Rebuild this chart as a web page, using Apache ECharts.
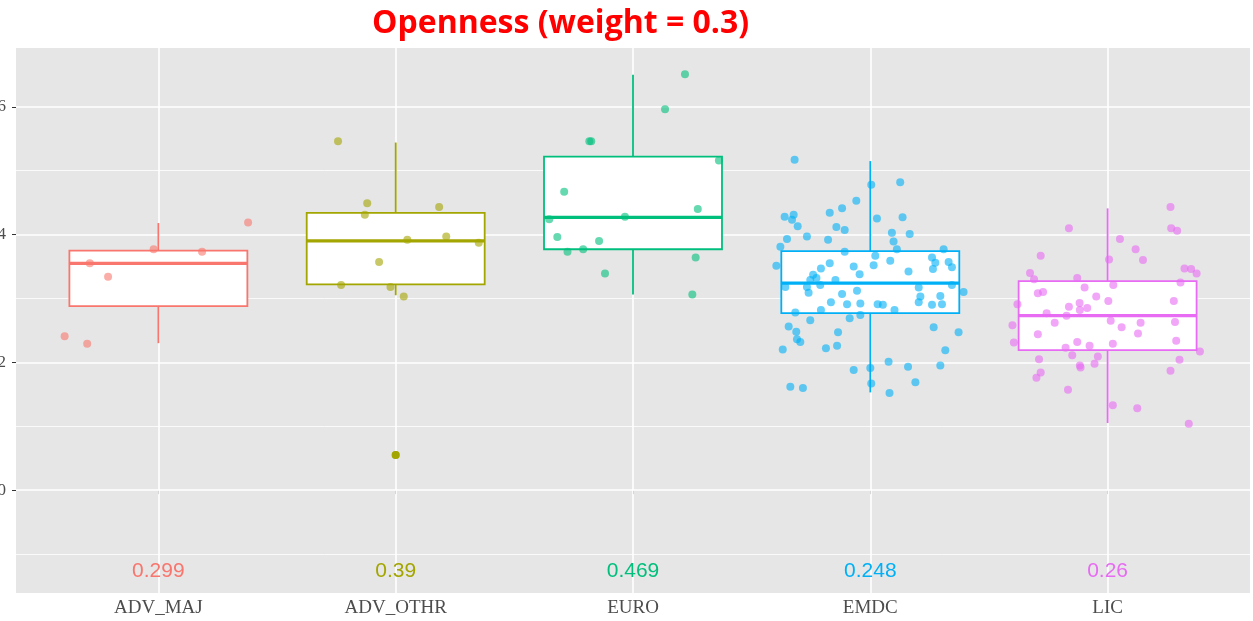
<!DOCTYPE html>
<html>
<head>
<meta charset="utf-8">
<script src="https://cdn.jsdelivr.net/npm/echarts@6/dist/echarts.min.js"></script>
<style>
  html, body { margin: 0; padding: 0; background: #fff; }
  #chart { width: 1253px; height: 621px; }
</style>
</head>
<body>
<div id="chart"></div>
<script>
// categories and colours (ggplot default hue palette)
var categories = ["ADV_MAJ", "ADV_OTHR", "EURO", "EMDC", "LIC"];
var colors = ["#F8766D", "#A3A500", "#00BF7D", "#00B0F6", "#E76BF3"];
var weights = ["0.299", "0.39", "0.469", "0.248", "0.26"];

// box stats: [lower whisker, Q1, median, Q3, upper whisker]
var boxStats = [
  [0.230, 0.288, 0.355, 0.375, 0.418],
  [0.305, 0.322, 0.390, 0.434, 0.544],
  [0.306, 0.377, 0.427, 0.522, 0.650],
  [0.153, 0.277, 0.324, 0.374, 0.515],
  [0.105, 0.219, 0.273, 0.327, 0.441]
];

// outliers: [category index, value]
var outliers = [[1, 0.055]];

// jittered points: [jitter offset, value]
var ptsAdvMaj = [
  [-0.395, 0.241], [-0.30, 0.229], [-0.289, 0.355], [-0.212, 0.334],
  [-0.02, 0.377], [0.184, 0.373], [0.378, 0.419]
];
var ptsAdvOthr = [
  [-0.243, 0.546], [-0.12, 0.449], [-0.13, 0.431], [0.183, 0.443],
  [0.049, 0.392], [0.213, 0.397], [0.35, 0.387], [-0.07, 0.357],
  [-0.23, 0.321], [-0.022, 0.318], [0.034, 0.303], [0.0, 0.055]
];
var ptsEuro = [
  [0.219, 0.651], [0.135, 0.596], [-0.184, 0.546], [-0.176, 0.546],
  [0.362, 0.516], [-0.29, 0.467], [0.273, 0.440], [-0.353, 0.424],
  [-0.034, 0.428], [-0.319, 0.396], [-0.143, 0.390], [-0.276, 0.373],
  [-0.21, 0.377], [0.264, 0.364], [-0.118, 0.339], [0.25, 0.306]
];
var ptsEmdc = [
  [-0.319, 0.517], [0.004, 0.478], [0.126, 0.482], [-0.059, 0.453],
  [-0.361, 0.428], [-0.323, 0.431], [-0.33, 0.423], [-0.306, 0.413],
  [-0.171, 0.434], [-0.119, 0.441], [-0.143, 0.412], [-0.108, 0.407],
  [0.028, 0.425], [0.136, 0.427], [0.091, 0.403], [0.166, 0.401],
  [-0.267, 0.397], [-0.351, 0.393], [-0.178, 0.392], [-0.379, 0.381],
  [0.098, 0.389], [0.112, 0.377], [-0.108, 0.373], [0.309, 0.377],
  [0.021, 0.367], [-0.396, 0.351], [-0.171, 0.355], [-0.208, 0.347],
  [-0.07, 0.350], [-0.045, 0.338], [0.014, 0.352], [0.084, 0.359],
  [0.26, 0.364], [0.274, 0.356], [0.33, 0.357], [0.264, 0.346],
  [0.344, 0.349], [0.161, 0.342], [-0.241, 0.337], [-0.253, 0.329],
  [-0.227, 0.332], [-0.147, 0.329], [-0.267, 0.318], [-0.211, 0.321],
  [-0.358, 0.318], [-0.26, 0.309], [-0.056, 0.312], [0.204, 0.317],
  [0.211, 0.303], [0.204, 0.294], [0.295, 0.304], [0.344, 0.321],
  [0.393, 0.310], [-0.119, 0.307], [-0.166, 0.294], [-0.098, 0.291],
  [-0.042, 0.292], [0.031, 0.291], [0.053, 0.290], [0.26, 0.290],
  [0.302, 0.291], [-0.316, 0.278], [-0.208, 0.282], [-0.042, 0.274],
  [0.102, 0.282], [-0.087, 0.269], [-0.253, 0.266], [-0.344, 0.256],
  [-0.312, 0.248], [-0.136, 0.247], [0.267, 0.255], [0.372, 0.247],
  [-0.309, 0.236], [-0.295, 0.232], [-0.369, 0.220], [-0.187, 0.222],
  [-0.14, 0.226], [0.316, 0.219], [0.077, 0.201], [-0.07, 0.188],
  [0.0, 0.191], [0.159, 0.193], [0.295, 0.195], [-0.337, 0.162],
  [-0.284, 0.160], [0.004, 0.167], [0.19, 0.169], [0.081, 0.152]
];
var ptsLic = [
  [0.265, 0.443], [0.268, 0.410], [0.293, 0.406], [-0.163, 0.410],
  [0.052, 0.393], [0.118, 0.377], [-0.282, 0.367], [0.006, 0.361],
  [0.149, 0.360], [0.324, 0.347], [0.352, 0.346], [0.375, 0.339],
  [-0.327, 0.340], [-0.31, 0.330], [-0.128, 0.332], [0.307, 0.325],
  [0.024, 0.321], [-0.097, 0.317], [-0.294, 0.308], [-0.272, 0.310],
  [-0.048, 0.303], [0.003, 0.296], [0.279, 0.296], [-0.38, 0.291],
  [-0.163, 0.287], [-0.118, 0.293], [-0.086, 0.285], [-0.117, 0.282],
  [-0.257, 0.277], [-0.173, 0.273], [-0.223, 0.262], [-0.401, 0.258],
  [0.013, 0.265], [0.059, 0.255], [0.139, 0.262], [0.284, 0.263],
  [-0.294, 0.244], [0.128, 0.245], [-0.395, 0.231], [-0.128, 0.232],
  [-0.177, 0.223], [-0.076, 0.226], [0.022, 0.229], [0.289, 0.234],
  [-0.149, 0.211], [-0.041, 0.209], [0.389, 0.217], [-0.289, 0.205],
  [0.303, 0.204], [-0.117, 0.195], [-0.114, 0.192], [-0.055, 0.198],
  [0.265, 0.187], [-0.282, 0.184], [-0.3, 0.176], [-0.167, 0.157],
  [0.022, 0.133], [0.125, 0.128], [0.342, 0.104]
];
var jitterPoints = [ptsAdvMaj, ptsAdvOthr, ptsEuro, ptsEmdc, ptsLic];

var majorY = [0, 0.2, 0.4, 0.6];
var minorY = [-0.1, 0.1, 0.3, 0.5];
var labelY = -0.127;

var chart = echarts.init(document.getElementById("chart"));

var series = [];

// background grid lines
series.push({
  type: "line",
  data: [],
  silent: true,
  z: 1,
  markLine: {
    silent: true,
    z: 1,
    symbol: "none",
    animation: false,
    label: { show: false },
    data: majorY.map(function (v) {
      return { yAxis: v, lineStyle: { color: "#ffffff", width: 1.6, type: "solid" } };
    }).concat(minorY.map(function (v) {
      return { yAxis: v, lineStyle: { color: "#ffffff", width: 0.8, type: "solid" } };
    })).concat(categories.map(function (c, i) {
      return { xAxis: i + 1, lineStyle: { color: "#ffffff", width: 1.6, type: "solid" } };
    }))
  }
});

// boxes
series.push({
  type: "custom",
  z: 3,
  silent: true,
  data: boxStats.map(function (s, i) { return [i + 1].concat(s); }),
  renderItem: function (params, api) {
    var c = api.value(0);
    var lo = api.value(1), q1 = api.value(2), med = api.value(3), q3 = api.value(4), hi = api.value(5);
    var col = colors[params.dataIndex];
    var hw = 0.375;
    var tl = api.coord([c - hw, q3]);
    var br = api.coord([c + hw, q1]);
    var pLo = api.coord([c, lo]);
    var pQ1 = api.coord([c, q1]);
    var pQ3 = api.coord([c, q3]);
    var pHi = api.coord([c, hi]);
    var mL = api.coord([c - hw, med]);
    var mR = api.coord([c + hw, med]);
    return {
      type: "group",
      children: [
        { type: "line", shape: { x1: pHi[0], y1: pHi[1], x2: pQ3[0], y2: pQ3[1] }, style: { stroke: col, lineWidth: 1.8 } },
        { type: "line", shape: { x1: pQ1[0], y1: pQ1[1], x2: pLo[0], y2: pLo[1] }, style: { stroke: col, lineWidth: 1.8 } },
        { type: "rect", shape: { x: tl[0], y: tl[1], width: br[0] - tl[0], height: br[1] - tl[1] }, style: { fill: "#ffffff", stroke: col, lineWidth: 1.8 } },
        { type: "line", shape: { x1: mL[0], y1: mL[1], x2: mR[0], y2: mR[1] }, style: { stroke: col, lineWidth: 3.2 } }
      ]
    };
  }
});

// outliers
series.push({
  type: "scatter",
  z: 4,
  symbolSize: 8,
  data: outliers.map(function (o) { return [o[0] + 1, o[1]]; }),
  itemStyle: { color: colors[1], opacity: 1 }
});

// jittered points
jitterPoints.forEach(function (pts, i) {
  series.push({
    type: "scatter",
    name: categories[i],
    z: 5,
    symbolSize: 8,
    data: pts.map(function (p) { return [i + 1 + p[0], p[1]]; }),
    itemStyle: { color: colors[i], opacity: 0.6 }
  });
});

// weight labels
series.push({
  type: "custom",
  z: 6,
  silent: true,
  data: weights.map(function (w, i) { return [i + 1, labelY]; }),
  renderItem: function (params, api) {
    var p = api.coord([api.value(0), api.value(1)]);
    return {
      type: "text",
      x: p[0],
      y: p[1],
      style: {
        text: weights[params.dataIndex],
        fill: colors[params.dataIndex],
        align: "center",
        verticalAlign: "middle",
        font: "21px 'Liberation Sans', Arial, sans-serif"
      }
    };
  }
});

var option = {
  animation: false,
  backgroundColor: "#ffffff",
  title: {
    text: "Openness (weight = 0.3)",
    left: 367,
    top: 3,
    textStyle: {
      color: "#FF0000",
      fontWeight: "bold",
      fontSize: 32,
      fontFamily: "'Open Sans', sans-serif"
    }
  },
  grid: {
    left: 16,
    right: 3,
    top: 48,
    bottom: 28,
    outerBoundsMode: "none",
    show: true,
    backgroundColor: "#E6E6E6",
    borderWidth: 0
  },
  xAxis: {
    type: "value",
    min: 0.4,
    max: 5.6,
    splitLine: { show: false },
    axisLine: { show: false },
    axisTick: {
      show: true,
      customValues: [1, 2, 3, 4, 5],
      length: 4,
      lineStyle: { color: "#333333", width: 1 }
    },
    axisLabel: {
      customValues: [1, 2, 3, 4, 5],
      margin: 6,
      color: "#4D4D4D",
      fontSize: 19,
      fontFamily: "'Liberation Serif', serif",
      formatter: function (v) { return categories[Math.round(v) - 1]; }
    }
  },
  yAxis: {
    type: "value",
    min: -0.161,
    max: 0.692,
    splitLine: { show: false },
    axisLine: { show: false },
    axisTick: {
      show: true,
      customValues: majorY,
      length: 4,
      lineStyle: { color: "#333333", width: 1 }
    },
    axisLabel: {
      customValues: majorY,
      margin: 10,
      color: "#4D4D4D",
      fontSize: 17,
      fontFamily: "'Liberation Serif', serif",
      formatter: function (v) { return String(Math.round(v * 10)); }
    }
  },
  series: series
};

chart.setOption(option);
</script>
</body>
</html>
